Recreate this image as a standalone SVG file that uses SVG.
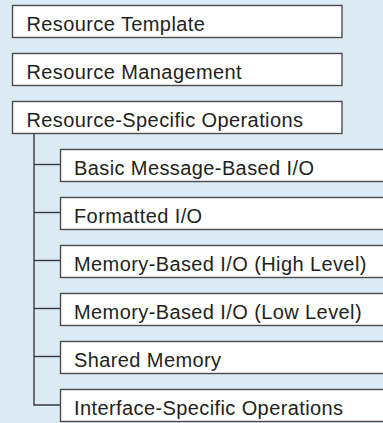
<svg xmlns="http://www.w3.org/2000/svg" width="383" height="423" viewBox="0 0 383 423">
  <style>
    .box { fill: #ffffff; stroke: #4a4a4a; stroke-width: 1.4; }
    .lbl { font-family: "Liberation Sans", Arial, sans-serif; font-size: 20px; letter-spacing: 0.4px; fill: #231f20; }
    .wire { fill: none; stroke: #3a3a3a; stroke-width: 1.4; }
  </style>
  <rect x="0" y="0" width="383" height="423" fill="#dbeaf3"/>

  <!-- tree connectors -->
  <g id="connectors">
    <path class="wire" d="M34,134 V405 H60"/>
    <path class="wire" d="M34,164.5 H60"/>
    <path class="wire" d="M34,212.5 H60"/>
    <path class="wire" d="M34,260.5 H60"/>
    <path class="wire" d="M34,308.5 H60"/>
    <path class="wire" d="M34,356.5 H60"/>
  </g>

  <!-- top-level blocks -->
  <g id="resource-template">
    <rect class="box" x="12.5" y="5.5" width="329.5" height="32"/>
    <text class="lbl" x="26.5" y="30.5">Resource Template</text>
  </g>
  <g id="resource-management">
    <rect class="box" x="12.5" y="53.5" width="329.5" height="32"/>
    <text class="lbl" x="26.5" y="78.5">Resource Management</text>
  </g>
  <g id="resource-specific">
    <rect class="box" x="12.5" y="101.5" width="329.5" height="32"/>
    <text class="lbl" x="26.5" y="126.5">Resource-Specific Operations</text>
  </g>

  <!-- resource-specific children -->
  <g id="basic-io">
    <rect class="box" x="60.5" y="149.5" width="330" height="32"/>
    <text class="lbl" x="74" y="174.5">Basic Message-Based I/O</text>
  </g>
  <g id="formatted-io">
    <rect class="box" x="60.5" y="197.5" width="330" height="32"/>
    <text class="lbl" x="74" y="222.5">Formatted I/O</text>
  </g>
  <g id="memory-high">
    <rect class="box" x="60.5" y="245.5" width="330" height="32"/>
    <text class="lbl" x="74" y="270.5">Memory-Based I/O (High Level)</text>
  </g>
  <g id="memory-low">
    <rect class="box" x="60.5" y="293.5" width="330" height="32"/>
    <text class="lbl" x="74" y="318.5">Memory-Based I/O (Low Level)</text>
  </g>
  <g id="shared-memory">
    <rect class="box" x="60.5" y="341.5" width="330" height="32"/>
    <text class="lbl" x="74" y="366.5">Shared Memory</text>
  </g>
  <g id="interface-specific">
    <rect class="box" x="60.5" y="389.5" width="330" height="32"/>
    <text class="lbl" x="74" y="414.5">Interface-Specific Operations</text>
  </g>
</svg>
